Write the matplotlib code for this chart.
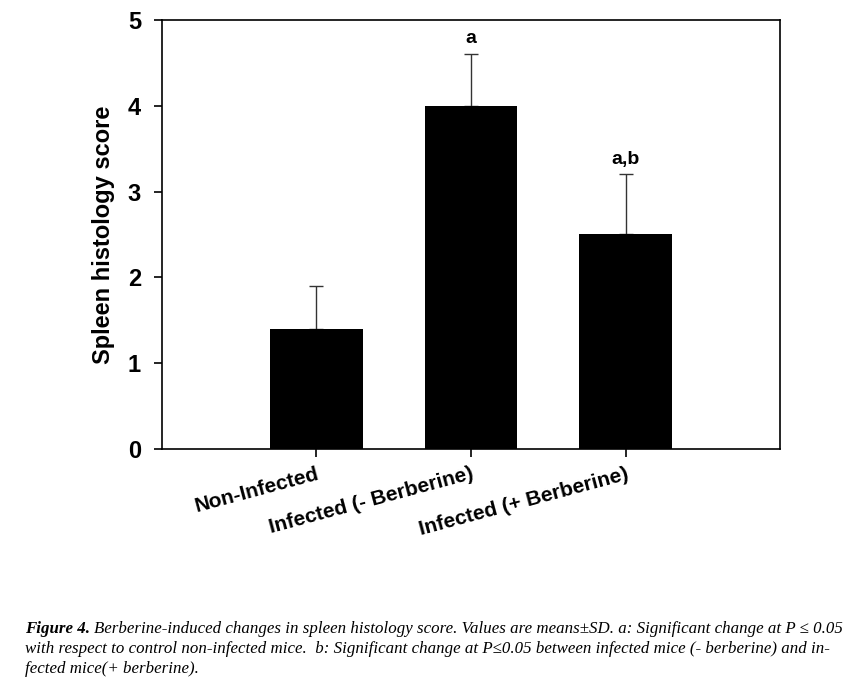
import matplotlib
matplotlib.use("Agg")
import matplotlib.pyplot as plt

# Data
groups = ["Non-Infected", "Infected (- Berberine)", "Infected (+ Berberine)"]
means = [1.4, 4.0, 2.5]
sds = [0.5, 0.6, 0.7]
letters = ["", "a", "a,b"]
yticks = [0, 1, 2, 3, 4, 5]

caption_lines = [
    "Berberine-induced changes in spleen histology score. Values are means\u00b1SD. a: Significant change at P \u2264 0.05",
    "with respect to control non-infected mice.  b: Significant change at P\u22640.05 between infected mice (- berberine) and in-",
    "fected mice(+ berberine).",
]

fig = plt.figure(figsize=(8.61, 6.78), dpi=100)
ax = fig.add_axes([0.188, 0.3378, 0.718, 0.6327])

x = list(range(len(groups)))
ax.bar(x, means, width=0.6, color="black", zorder=2)
ax.errorbar(x, means, yerr=[[0] * len(sds), sds], fmt="none", ecolor="#333333",
            elinewidth=1.0, capsize=4.7, capthick=1.0, zorder=1)

for xi, m, s, lab in zip(x, means, sds, letters):
    if lab:
        ax.text(xi, m + s + 0.08, lab, ha="center", va="bottom",
                fontsize=14, fontweight="bold", family="Liberation Sans")

ax.set_xlim(-1, 3)
ax.set_ylim(0, 5)
ax.set_yticks(yticks)
ax.set_yticklabels([str(t) for t in yticks], fontsize=17, fontweight="bold",
                   family="Liberation Sans")
ax.set_xticks(x)
ax.set_xticklabels(groups, fontsize=15, fontweight="bold", family="Liberation Sans",
                   rotation=15, ha="right", rotation_mode="anchor")
ax.tick_params(axis="both", direction="out", length=6, width=1.2)
ax.tick_params(axis="y", pad=9)
ax.tick_params(axis="x", pad=5)
for sp in ax.spines.values():
    sp.set_linewidth(1.2)
ax.set_ylabel("Spleen histology score", fontsize=17, fontweight="bold",
              family="Liberation Sans", labelpad=9)

# caption
fig.canvas.draw()
renderer = fig.canvas.get_renderer()
x0 = 25 / 861
cap_size = 12.2
t0 = fig.text(x0, 1 - 633 / 678, "Figure 4. ", fontsize=cap_size, style="italic",
              fontweight="bold", family="Liberation Serif")
bb = t0.get_window_extent(renderer)
fig.text(bb.x1 / fig.bbox.width, 1 - 633 / 678, caption_lines[0], fontsize=cap_size,
         style="italic", family="Liberation Serif")
for i, line in enumerate(caption_lines[1:]):
    fig.text(x0, 1 - (653 + 20 * i) / 678, line, fontsize=cap_size,
             style="italic", family="Liberation Serif")

fig.savefig("out.png", dpi=100)
